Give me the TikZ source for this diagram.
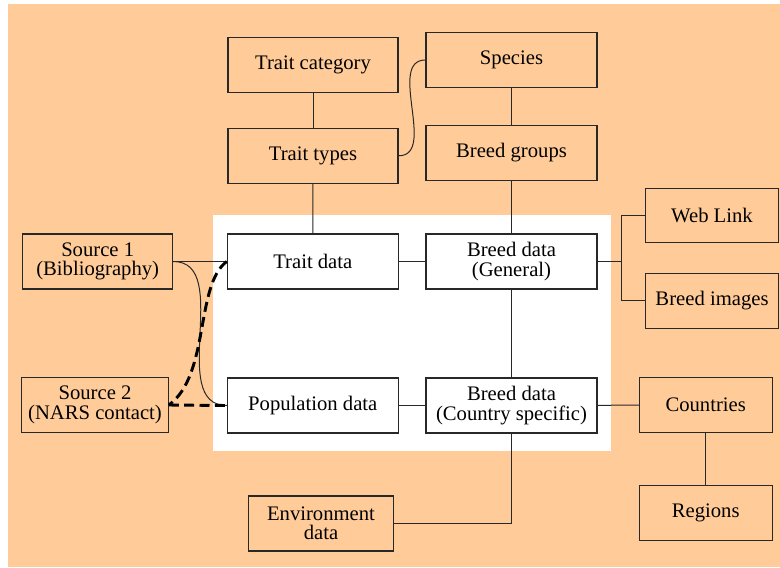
\documentclass[tikz,border=0pt]{standalone}
\usepackage{fontspec}
\setmainfont{Liberation Serif}
\definecolor{peach}{RGB}{255,204,153}
\definecolor{edgec}{RGB}{40,40,40}
\begin{document}
\begin{tikzpicture}[x=0.75pt,y=-0.75pt,
  box/.style={draw=edgec, line width=0.8pt, fill=peach, inner sep=0pt, align=center,
    font=\fontsize{15.5}{14.5}\selectfont, text=black},
  wbox/.style={box, fill=white},
  sz/.style 2 args={minimum width=#1*0.75pt, minimum height=#2*0.75pt},
  link/.style={draw=edgec, line width=0.75pt},
  dashlink/.style={draw=black, line width=2.2pt, dash pattern=on 7.5pt off 4pt}
]
\useasboundingbox (0,0) rectangle (780,567);
\fill[peach] (7.5,4.5) rectangle (780,566.5);
\fill[white] (212.7,215) rectangle (611,450.7);

\node[box, sz={170}{55}] (tcat) at (313,65.3) {Trait category};
\node[box, sz={171}{55}] (species) at (511.5,60) {Species};
\node[box, sz={170}{55}] (ttypes) at (313,155.8) {Trait types};
\node[box, sz={171}{55}] (bgroups) at (511.5,153) {Breed groups};
\node[wbox, sz={171}{55}] (tdata) at (312.8,261.5) {Trait data};
\node[wbox, sz={171}{55}] (bgen) at (511.5,261.5) {Breed data\\(General)};
\node[wbox, sz={171}{55}] (pop) at (312.8,405.5) {Population data};
\node[wbox, sz={171}{55}] (bcs) at (511.5,405.5) {Breed data\\(Country specific)};
\node[box, sz={150}{55}] (src1) at (97.7,261.5) {Source 1\\(Bibliography)};
\node[box, sz={146.6}{54.6}] (src2) at (95,405) {Source 2\\(NARS contact)};
\node[box, sz={132.6}{54.4}] (web) at (712,215.5) {Web Link};
\node[box, sz={132.6}{55}] (bimg) at (712,300.8) {Breed images};
\node[box, sz={132.7}{55.4}] (countries) at (705.7,405) {Countries};
\node[box, sz={132.7}{55.3}] (regions) at (705.7,513.3) {Regions};
\node[box, sz={145}{55}] (env) at (321,523.5) {Environment\\data};

\coordinate (j1) at (621,261.5);

\draw[link] (tcat) -- (ttypes);
\draw[link] (species) -- (bgroups);
\draw[link] (ttypes) -- (tdata);
\draw[link] (bgroups) -- (bgen);
\draw[link] (tdata) -- (bgen);
\draw[link] (bgen) -- (bcs);
\draw[link] (pop) -- (bcs);
\draw[link] (bcs) -- (countries);
\draw[link] (countries) -- (regions);
\draw[link] (ttypes.east) to[out=0,in=180] (species.west);
\draw[link] (bgen.east) -- (j1);
\draw[link] (web.west) -| (j1);
\draw[link] (bimg.west) -| (j1);
\draw[link] (env.east) -| (bcs.south);
\draw[link] (src1.east) -- (tdata.west);
\draw[link] (src1.east) to[out=0,in=180] (pop.west);
\draw[dashlink] (tdata.west) .. controls (195,285) and (210,375) .. (src2.east);
\draw[dashlink] (src2.east) -- (pop.west);
\end{tikzpicture}
\end{document}
